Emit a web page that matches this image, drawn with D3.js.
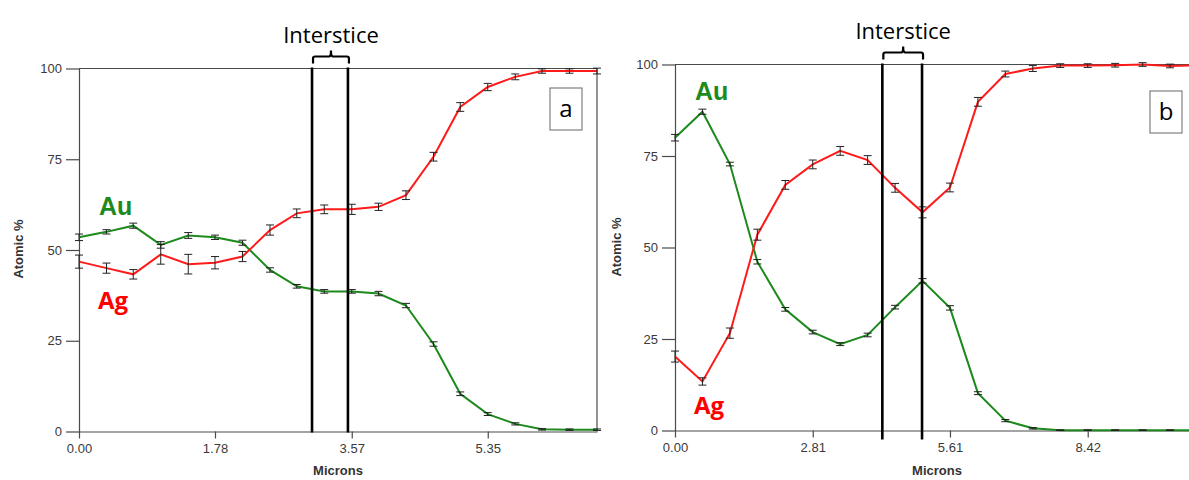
<!DOCTYPE html>
<html>
<head>
<meta charset="utf-8">
<script src="https://cdn.jsdelivr.net/npm/d3@7"></script>
<style>
  html, body { margin: 0; padding: 0; background: #fff; }
  svg { display: block; }
  .tick text { font-family: "Liberation Sans", Arial, sans-serif; font-size: 13px; fill: #3a3a3a; }
  .axis path, .axis line { stroke: #4a4a4a; stroke-width: 1.2; }
</style>
</head>
<body>
<div id="chart"></div>
<script>
// ---------- data ----------
// panel a
const micronsA = [0, 0.36, 0.71, 1.07, 1.43, 1.78, 2.14, 2.50, 2.85, 3.21, 3.57, 3.92, 4.28, 4.64, 4.99, 5.35, 5.71, 6.06, 6.42, 6.78];
const auA    = [53.5, 55.0, 56.7, 51.4, 54.0, 53.5, 52.0, 44.5, 40.0, 38.6, 38.6, 38.0, 34.7, 24.1, 10.4, 4.8, 2.1, 0.6, 0.5, 0.5];
const auErrA = [0.9, 0.6, 0.7, 0.9, 0.8, 0.6, 0.7, 0.6, 0.5, 0.5, 0.5, 0.6, 0.6, 0.6, 0.5, 0.4, 0.3, 0.2, 0.2, 0.2];
const agA    = [46.8, 45.0, 43.3, 48.8, 46.1, 46.5, 48.2, 55.5, 60.1, 61.2, 61.2, 61.9, 65.1, 75.7, 89.4, 94.9, 97.7, 99.3, 99.3, 99.3];
const agErrA = [1.8, 1.4, 1.3, 2.7, 2.7, 1.7, 1.4, 1.4, 1.2, 1.2, 1.4, 1.0, 1.2, 1.2, 1.2, 1.0, 0.8, 0.6, 0.6, 0.8];
const ticksXA = [0, 1.78, 3.57, 5.35];
const intersticeA = [3.05, 3.52];

// panel b
const micronsB = [0, 0.56, 1.12, 1.68, 2.25, 2.81, 3.37, 3.93, 4.49, 5.05, 5.61, 6.18, 6.74, 7.30, 7.86, 8.42, 8.98, 9.54, 10.10, 10.67];
const auB    = [80.0, 87.1, 72.8, 46.1, 33.1, 26.9, 23.6, 26.1, 33.7, 40.9, 33.5, 10.2, 2.7, 0.6, 0.1, 0.1, 0.1, 0.1, 0.1, 0.1];
const auErrB = [0.9, 0.7, 0.5, 0.6, 0.5, 0.5, 0.4, 0.5, 0.5, 0.6, 0.6, 0.4, 0.3, 0.2, 0.1, 0.1, 0.1, 0.1, 0.1, 0.1];
const agB    = [20.2, 13.4, 26.6, 53.5, 67.1, 72.7, 76.4, 73.9, 66.3, 59.6, 66.4, 89.8, 97.4, 98.9, 99.7, 99.7, 99.8, 100.0, 99.6, 99.8];
const agErrB = [1.5, 1.0, 1.4, 1.5, 1.2, 1.2, 1.2, 1.2, 1.2, 1.5, 1.2, 1.2, 0.8, 0.8, 0.5, 0.5, 0.5, 0.5, 0.5, 0.5];
const ticksXB = [0, 2.81, 5.61, 8.42];
const intersticeB = [4.23, 5.04];

const ticksY = [0, 25, 50, 75, 100];

const GREEN = "#1d8a1d";
const RED = "#ff1a1a";

const W = 1189, H = 480;
const svg = d3.select("#chart").append("svg")
  .attr("width", W).attr("height", H)
  .attr("viewBox", `0 0 ${W} ${H}`);

function drawPanel(p) {
  const x = d3.scaleLinear().domain(p.xDomain).range(p.xRange);
  const y = d3.scaleLinear().domain([0, 100]).range(p.yRange);
  const g = svg.append("g");

  // axes
  g.append("g").attr("class", "axis")
    .attr("transform", `translate(${p.xRange[0]},0)`)
    .call(d3.axisLeft(y).tickValues(ticksY).tickSize(13).tickSizeOuter(0).tickPadding(4));

  g.append("g").attr("class", "axis")
    .attr("transform", `translate(0,${p.yRange[0]})`)
    .call(d3.axisBottom(x).tickValues(p.ticksX).tickSize(7).tickSizeOuter(0).tickPadding(5)
      .tickFormat(d3.format(".2f")));

  // top frame line (continues the 100 tick)
  g.append("line")
    .attr("x1", p.xRange[0]).attr("x2", p.xRange[1])
    .attr("y1", y(100)).attr("y2", y(100))
    .attr("stroke", "#4a4a4a").attr("stroke-width", 1.2);

  if (p.rightFrame) {
    g.append("line")
      .attr("x1", x(p.xDomain[1])).attr("x2", x(p.xDomain[1]))
      .attr("y1", y(100)).attr("y2", y(0))
      .attr("stroke", "#4a4a4a").attr("stroke-width", 1.2);
  }

  // axis titles
  g.append("text")
    .attr("transform", `translate(${p.yLabelX},${p.yLabelY}) rotate(-90)`)
    .attr("text-anchor", "middle")
    .attr("font-family", "Liberation Sans, Arial, sans-serif")
    .attr("font-size", 13).attr("font-weight", 700).attr("fill", "#333")
    .text("Atomic %");

  g.append("text")
    .attr("x", p.xLabelX).attr("y", 475)
    .attr("text-anchor", "middle")
    .attr("font-family", "Liberation Sans, Arial, sans-serif")
    .attr("font-size", 13).attr("font-weight", 700).attr("fill", "#333")
    .text("Microns");

  // series
  const series = [
    { vals: p.au, err: p.auErr, color: GREEN },
    { vals: p.ag, err: p.agErr, color: RED }
  ];
  const line = d3.line().x(d => x(d.x)).y(d => y(d.v));

  series.forEach(s => {
    const pts = p.microns.map((m, i) => ({ x: m, v: s.vals[i], e: s.err[i] }));
    g.append("path")
      .datum(pts)
      .attr("fill", "none")
      .attr("stroke", s.color)
      .attr("stroke-width", 2)
      .attr("d", line);

    // error bars
    const eb = g.append("g").attr("stroke", "#222").attr("stroke-width", 1);
    pts.forEach(d => {
      const cx = x(d.x);
      const y1 = y(Math.min(100.6, d.v + d.e)), y2 = y(Math.max(0, d.v - d.e));
      eb.append("line").attr("x1", cx).attr("x2", cx).attr("y1", y1).attr("y2", y2);
      eb.append("line").attr("x1", cx - 4).attr("x2", cx + 4).attr("y1", y1).attr("y2", y1);
      eb.append("line").attr("x1", cx - 4).attr("x2", cx + 4).attr("y1", y2).attr("y2", y2);
    });
  });

  // interstice lines + bracket
  const [a, b] = p.interstice;
  [a, b].forEach(v => {
    g.append("line")
      .attr("x1", x(v)).attr("x2", x(v))
      .attr("y1", y(100) - 1).attr("y2", y(0) + p.lineOver)
      .attr("stroke", "#000").attr("stroke-width", 2.6);
  });
  const bx1 = x(a) + 1, bx2 = x(b) + 1, bm = (bx1 + bx2) / 2;
  const byLeg = y(100) - 5, byBar = y(100) - 12, byTip = y(100) - 18;
  g.append("path")
    .attr("d", `M${bx1},${byLeg} V${byBar + 2} Q${bx1},${byBar} ${bx1 + 2},${byBar} H${bm - 2} Q${bm},${byBar} ${bm},${byTip} Q${bm},${byBar} ${bm + 2},${byBar} H${bx2 - 2} Q${bx2},${byBar} ${bx2},${byBar + 2} V${byLeg}`)
    .attr("fill", "none").attr("stroke", "#000").attr("stroke-width", 2.2);

  g.append("text")
    .attr("x", bm).attr("y", y(100) - 26)
    .attr("text-anchor", "middle")
    .attr("font-family", "Open Sans, sans-serif")
    .attr("font-size", 22).attr("fill", "#000")
    .text("Interstice");

  // element labels
  g.append("text")
    .attr("x", p.auLabel[0]).attr("y", p.auLabel[1])
    .attr("font-family", "Liberation Sans, Arial, sans-serif")
    .attr("font-size", 25).attr("font-weight", 700).attr("fill", GREEN)
    .text("Au");
  g.append("text")
    .attr("x", p.agLabel[0]).attr("y", p.agLabel[1])
    .attr("font-family", "Open Sans, sans-serif")
    .attr("font-size", 24).attr("font-weight", 700).attr("fill", "#ff0000")
    .text("Ag");

  // panel letter box
  const lb = g.append("g").attr("transform", `translate(${p.letterBox[0]},${p.letterBox[1]})`);
  lb.append("rect").attr("width", 32).attr("height", 42)
    .attr("fill", "#fff").attr("stroke", "#666").attr("stroke-width", 1);
  lb.append("text").attr("x", 16).attr("y", 29)
    .attr("text-anchor", "middle")
    .attr("font-family", "Open Sans, sans-serif")
    .attr("font-size", 24).attr("fill", "#000")
    .text(p.letter);
}

drawPanel({
  microns: micronsA, au: auA, auErr: auErrA, ag: agA, agErr: agErrA,
  xDomain: [0, 6.78], xRange: [79, 597], yRange: [431.5, 68.5],
  ticksX: ticksXA, interstice: intersticeA, lineOver: 1, rightFrame: true,
  yLabelX: 23, yLabelY: 249, xLabelX: 338,
  auLabel: [99, 215], agLabel: [98, 309],
  letterBox: [550, 88], letter: "a"
});

drawPanel({
  microns: micronsB, au: auB, auErr: auErrB, ag: agB, agErr: agErrB,
  xDomain: [0, 10.67], xRange: [675, 1198], yRange: [430.5, 64.5],
  ticksX: ticksXB, interstice: intersticeB, lineOver: 9, rightFrame: false,
  yLabelX: 621, yLabelY: 247, xLabelX: 937,
  auLabel: [695, 100], agLabel: [694, 414],
  letterBox: [1150, 91], letter: "b"
});
</script>
</body>
</html>
